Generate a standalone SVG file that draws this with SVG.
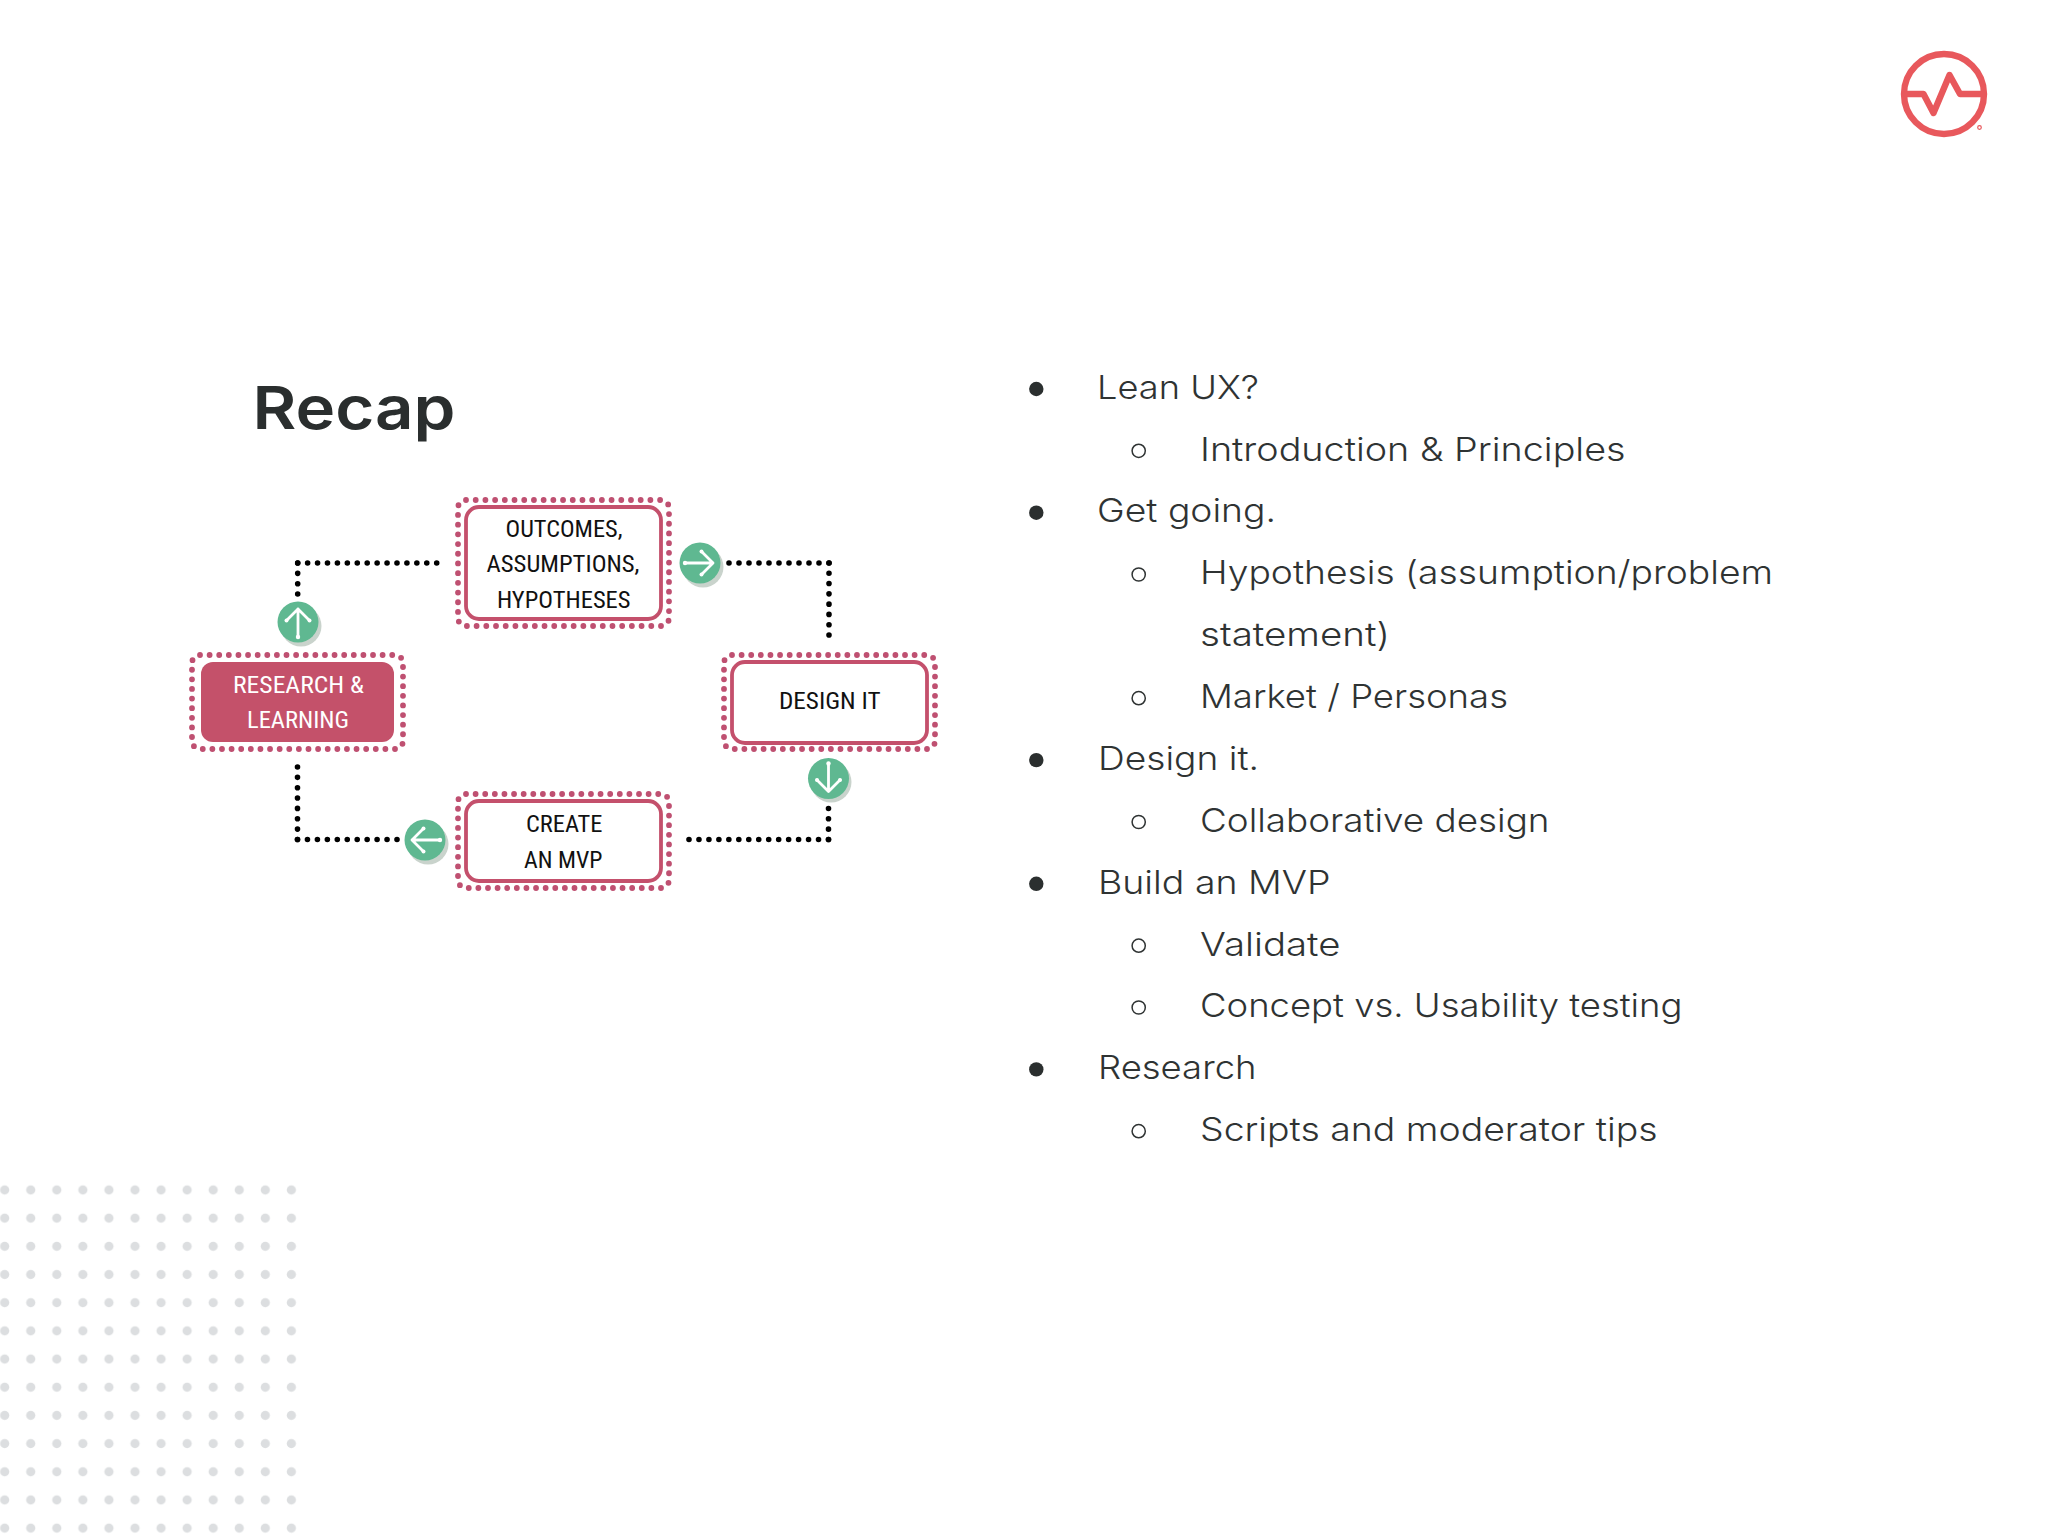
<svg xmlns="http://www.w3.org/2000/svg" width="2048" height="1536" viewBox="0 0 2048 1536">
<style>
.dots{fill:none;stroke:#bf5071;stroke-width:5.8;stroke-linecap:round;stroke-dasharray:0 1}
.box{fill:#fff;stroke:#c4506c;stroke-width:3.8}
.box.on{fill:#c4516a}
.lab{font-family:"Liberation Sans Narrow","Roboto Condensed",Roboto,sans-serif;font-size:24.5px;fill:#111}
.lab.w{fill:#fff}
.conn{fill:none;stroke:#000;stroke-width:5.6;stroke-linecap:round;stroke-dasharray:0 1}
.sh{fill:#c9d3cc}
.gr{fill:#5fb891}
.arr{fill:none;stroke:#fff;stroke-width:2.8;stroke-linecap:round;stroke-linejoin:round}
.t1{font-family:Inter,"Open Sans",sans-serif;font-weight:300;font-size:33px;fill:#2f3333}
.b{fill:#2b2f2f}
.h{fill:#fff;stroke:#2f3333;stroke-width:1.5}
</style>
<defs>
<pattern id="grid" patternUnits="userSpaceOnUse" x="-8.33" y="1175.9" width="26.06" height="28.18">
<circle cx="13.03" cy="14.09" r="4.6" fill="#dcdee0"/>
</pattern>
<g id="arrow">
<path class="arr" d="M0 15V-13M-11.5 -1.5L0 -13L11.5 -1.5"/>
<circle cx="0" cy="15" r="2.2" fill="#fff"/><circle cx="-11.5" cy="-1.5" r="2" fill="#fff"/><circle cx="11.5" cy="-1.5" r="2" fill="#fff"/>
</g>
</defs>
<rect width="2048" height="1536" fill="#fff"/>
<rect id="dot-grid" x="-8.33" y="1175.9" width="312.72" height="366.34" fill="url(#grid)"/>

<g id="logo" fill="none" stroke="#e8585c" stroke-width="6.4" stroke-linejoin="round" stroke-linecap="round">
<circle cx="1944" cy="94" r="40"/>
<path d="M1906 94H1923.5L1933.5 113L1949.5 75L1960 94H1982"/>
<circle cx="1979.5" cy="127.5" r="1.8" stroke-width="1.2"/>
</g>

<text id="title" x="252.5" y="428.5" font-family="Inter,'Open Sans',sans-serif" font-weight="600" font-size="59" fill="#2a2e2e" textLength="203" lengthAdjust="spacingAndGlyphs">Recap</text>

<g id="connectors">
<path class="conn" pathLength="3.1" d="M297.7 594V563V562"/>
<path class="conn" pathLength="14.1" d="M297.7 563H437.7"/>
<path class="conn" pathLength="10.1" d="M829 563H728"/>
<path class="conn" pathLength="7.1" d="M829 563V636"/>
<path class="conn" pathLength="3.1" d="M828.5 808.5V840.5"/>
<path class="conn" pathLength="14.1" d="M828.5 839.5H688"/>
<path class="conn" pathLength="7.1" d="M297.5 767V840.5"/>
<path class="conn" pathLength="10.1" d="M297.5 839.5H398"/>
</g>

<g id="node-outcomes">
<rect class="dots" pathLength="68" x="458" y="500" width="211" height="126" rx="8"/>
<rect class="box" x="466" y="507" width="195" height="112" rx="13"/>
<text class="lab" x="505.5" y="537" textLength="117" lengthAdjust="spacingAndGlyphs">OUTCOMES,</text>
<text class="lab" x="486.5" y="572" textLength="153" lengthAdjust="spacingAndGlyphs">ASSUMPTIONS,</text>
<text class="lab" x="497" y="607.5" textLength="133.5" lengthAdjust="spacingAndGlyphs">HYPOTHESES</text>
</g>
<g id="node-research">
<rect class="dots" pathLength="62" x="192" y="655" width="211" height="94" rx="8"/>
<rect class="box on" x="201" y="662" width="193" height="80" rx="12" style="stroke:none"/>
<text class="lab w" x="233" y="693" textLength="131" lengthAdjust="spacingAndGlyphs">RESEARCH &amp;</text>
<text class="lab w" x="247" y="728" textLength="102" lengthAdjust="spacingAndGlyphs">LEARNING</text>
</g>
<g id="node-design">
<rect class="dots" pathLength="62" x="724" y="655" width="211" height="94" rx="8"/>
<rect class="box" x="732" y="662" width="195" height="81" rx="13"/>
<text class="lab" x="779" y="709" textLength="101.5" lengthAdjust="spacingAndGlyphs">DESIGN IT</text>
</g>
<g id="node-mvp">
<rect class="dots" pathLength="62" x="458" y="794" width="211" height="94" rx="8"/>
<rect class="box" x="466" y="801" width="195" height="80" rx="13"/>
<text class="lab" x="526" y="832" textLength="76.5" lengthAdjust="spacingAndGlyphs">CREATE</text>
<text class="lab" x="524" y="867.5" textLength="78.5" lengthAdjust="spacingAndGlyphs">AN MVP</text>
</g>

<g id="arrow-up"><circle class="sh" cx="301" cy="626" r="20.5"/><circle class="gr" cx="298" cy="622" r="20.5"/><use href="#arrow" transform="translate(298 622)"/></g>
<g id="arrow-right"><circle class="sh" cx="703" cy="567" r="20.5"/><circle class="gr" cx="700" cy="563" r="20.5"/><use href="#arrow" transform="translate(700 563) rotate(90)"/></g>
<g id="arrow-down"><circle class="sh" cx="831" cy="782" r="20.5"/><circle class="gr" cx="828.5" cy="778.5" r="20.5"/><use href="#arrow" transform="translate(828.5 778.5) rotate(180)"/></g>
<g id="arrow-left"><circle class="sh" cx="428" cy="844" r="20.5"/><circle class="gr" cx="425" cy="840" r="20.5"/><use href="#arrow" transform="translate(425 840) rotate(270)"/></g>

<g id="outline">
<circle class="b" cx="1036.3" cy="389" r="7.2"/>
<text class="t1" x="1097" y="399" textLength="162" lengthAdjust="spacingAndGlyphs">Lean UX?</text>
<circle class="h" cx="1138.7" cy="450.8" r="6.6"/>
<text class="t1" x="1200" y="460.5" textLength="425.5" lengthAdjust="spacingAndGlyphs">Introduction &amp; Principles</text>
<circle class="b" cx="1036.3" cy="512.7" r="7.2"/>
<text class="t1" x="1097" y="522.2" textLength="179" lengthAdjust="spacingAndGlyphs">Get going.</text>
<circle class="h" cx="1138.7" cy="574.5" r="6.6"/>
<text class="t1" x="1200" y="584" textLength="573" lengthAdjust="spacingAndGlyphs">Hypothesis (assumption/problem</text>
<text class="t1" x="1200" y="646" textLength="190" lengthAdjust="spacingAndGlyphs">statement)</text>
<circle class="h" cx="1138.7" cy="698.2" r="6.6"/>
<text class="t1" x="1200" y="708.2" textLength="308" lengthAdjust="spacingAndGlyphs">Market / Personas</text>
<circle class="b" cx="1036.3" cy="760.1" r="7.2"/>
<text class="t1" x="1098" y="770.1" textLength="161" lengthAdjust="spacingAndGlyphs">Design it.</text>
<circle class="h" cx="1138.7" cy="822" r="6.6"/>
<text class="t1" x="1200" y="832" textLength="349.5" lengthAdjust="spacingAndGlyphs">Collaborative design</text>
<circle class="b" cx="1036.3" cy="883.8" r="7.2"/>
<text class="t1" x="1098" y="893.8" textLength="232.5" lengthAdjust="spacingAndGlyphs">Build an MVP</text>
<circle class="h" cx="1138.7" cy="945.7" r="6.6"/>
<text class="t1" x="1200" y="955.5" textLength="140.5" lengthAdjust="spacingAndGlyphs">Validate</text>
<circle class="h" cx="1138.7" cy="1007.5" r="6.6"/>
<text class="t1" x="1200" y="1017.2" textLength="482.5" lengthAdjust="spacingAndGlyphs">Concept vs. Usability testing</text>
<circle class="b" cx="1036.3" cy="1069.4" r="7.2"/>
<text class="t1" x="1098" y="1079.4" textLength="158.5" lengthAdjust="spacingAndGlyphs">Research</text>
<circle class="h" cx="1138.7" cy="1131.2" r="6.6"/>
<text class="t1" x="1200" y="1141.2" textLength="457.5" lengthAdjust="spacingAndGlyphs">Scripts and moderator tips</text>
</g>
</svg>
